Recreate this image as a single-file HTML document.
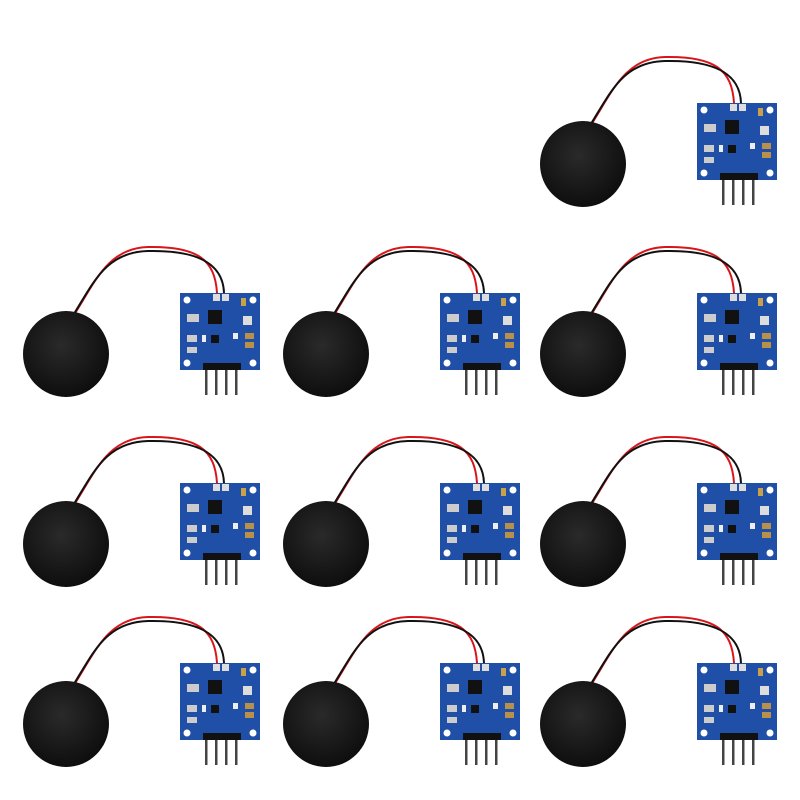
<!DOCTYPE html>
<html><head><style>html,body{margin:0;padding:0;background:#fff;width:800px;height:800px;overflow:hidden}</style></head>
<body>
<svg width="800" height="800" viewBox="0 0 800 800" xmlns="http://www.w3.org/2000/svg">
<defs>
<radialGradient id="dg" cx="0.45" cy="0.4" r="0.6"><stop offset="0" stop-color="#2a2a2a"/><stop offset="1" stop-color="#0e0e0e"/></radialGradient>
<g id="u">
  <path d="M591,125 C612,92 625,58 665,57 C715,56 732,70 734,103" fill="none" stroke="#d8161a" stroke-width="2"/>
  <path d="M589,127 C610,94 622,62 665,61 C712,60 740,72 741,103" fill="none" stroke="#111" stroke-width="2"/>
  <circle cx="583" cy="164" r="43" fill="url(#dg)"/>
  <rect x="697" y="103" width="80" height="77" fill="#1f4fa6"/>
  <circle cx="704" cy="110" r="3.5" fill="#fff"/><circle cx="770" cy="110" r="3.5" fill="#fff"/>
  <circle cx="704" cy="173" r="3.5" fill="#fff"/><circle cx="770" cy="173" r="3.5" fill="#fff"/>
  <rect x="730" y="104" width="7" height="7" fill="#ddd"/><rect x="739" y="104" width="7" height="7" fill="#ddd"/>
  <rect x="725" y="120" width="14" height="14" fill="#111"/>
  <rect x="758" y="108" width="5" height="8" fill="#c8a24a"/>
  <rect x="760" y="126" width="9" height="9" fill="#ddd"/>
  <rect x="704" y="124" width="12" height="8" fill="#ccc"/><rect x="704" y="145" width="10" height="7" fill="#ccc"/><rect x="704" y="157" width="10" height="6" fill="#ccc"/>
  <rect x="719" y="145" width="4" height="7" fill="#eee"/>
  <rect x="728" y="145" width="8" height="8" fill="#111"/>
  <rect x="750" y="143" width="5" height="6" fill="#eee"/>
  <rect x="762" y="143" width="9" height="6" fill="#b8904a"/><rect x="762" y="152" width="9" height="6" fill="#b8904a"/>
  <rect x="720" y="173" width="38" height="7" fill="#111"/>
  <rect x="722" y="180" width="2.5" height="25" fill="#444"/><rect x="732" y="180" width="2.5" height="25" fill="#444"/>
  <rect x="742" y="180" width="2.5" height="25" fill="#444"/><rect x="752" y="180" width="2.5" height="25" fill="#444"/>
</g>
</defs>
<use href="#u"/>
<use href="#u" transform="translate(-517,190)"/>
<use href="#u" transform="translate(-257,190)"/>
<use href="#u" transform="translate(0,190)"/>
<use href="#u" transform="translate(-517,380)"/>
<use href="#u" transform="translate(-257,380)"/>
<use href="#u" transform="translate(0,380)"/>
<use href="#u" transform="translate(-517,560)"/>
<use href="#u" transform="translate(-257,560)"/>
<use href="#u" transform="translate(0,560)"/>
</svg>
</body></html>
